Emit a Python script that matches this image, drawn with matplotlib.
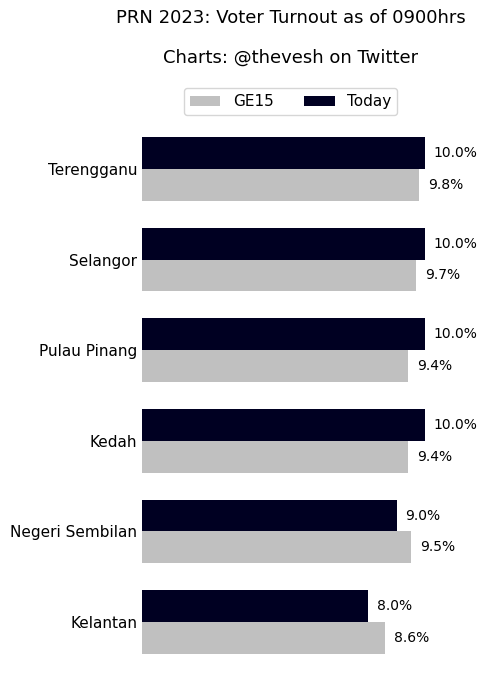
import numpy as np
import matplotlib
matplotlib.use('Agg')
import matplotlib.pyplot as plt

states = ['Kelantan', 'Negeri Sembilan', 'Kedah', 'Pulau Pinang', 'Selangor', 'Terengganu']
ge15 = [8.6, 9.5, 9.4, 9.4, 9.7, 9.8]
today = [8.0, 9.0, 10.0, 10.0, 10.0, 10.0]

fig = plt.figure(figsize=(4.87, 6.86), dpi=100)
ax = fig.add_axes([142/487, 6.5/686, 297/487, 568/686])

y = np.arange(len(states))
h = 0.35
b1 = ax.barh(y - h/2, ge15, height=h, color='#c0c0c0', label='GE15')
b2 = ax.barh(y + h/2, today, height=h, color='#000022', label='Today')

ax.bar_label(b1, labels=['%.1f%%' % v for v in ge15], padding=6.5, fontsize=10)
ax.bar_label(b2, labels=['%.1f%%' % v for v in today], padding=6.5, fontsize=10)

ax.set_yticks(y)
ax.set_yticklabels(states, fontsize=11)
ax.set_xticks([])
ax.tick_params(axis='y', length=0, pad=3.5)
for s in ax.spines.values():
    s.set_visible(False)

ax.legend(loc='center', bbox_to_anchor=(0.5, 1.017), ncol=2, fontsize=11)

fig.text(290.5/487, 1 - 9/686, 'PRN 2023: Voter Turnout as of 0900hrs\n\nCharts: @thevesh on Twitter',
         ha='center', va='top', fontsize=13, linespacing=1.15)

fig.savefig('out.png', dpi=100)
